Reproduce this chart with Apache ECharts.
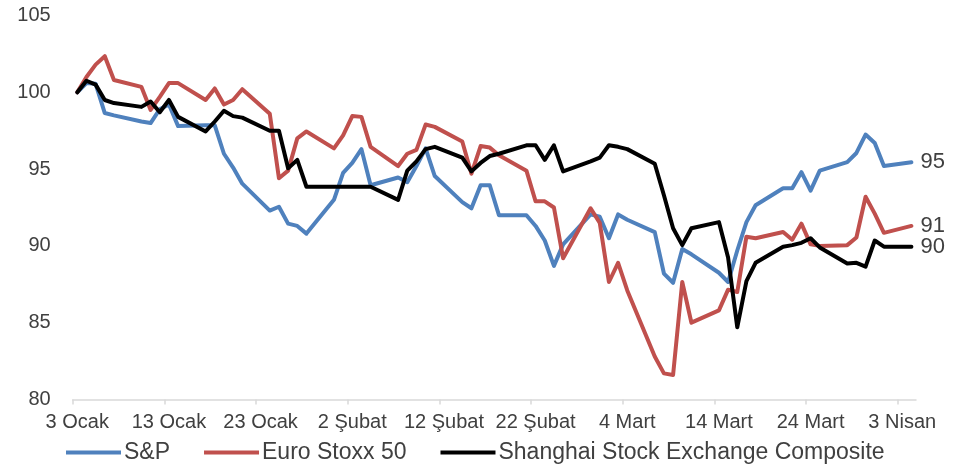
<!DOCTYPE html>
<html>
<head>
<meta charset="utf-8">
<script src="https://cdn.jsdelivr.net/npm/echarts@6/dist/echarts.min.js"></script>
<style>
  html, body { margin: 0; padding: 0; background: #fff; }
  #chart { width: 969px; height: 468px; }
</style>
</head>
<body>
<div id="chart"></div>
<script>
// trading days shown on the chart (2022)
var dates = [
  '2022-01-03','2022-01-04','2022-01-05','2022-01-06','2022-01-07',
  '2022-01-10','2022-01-11','2022-01-12','2022-01-13','2022-01-14',
  '2022-01-17','2022-01-18','2022-01-19','2022-01-20','2022-01-21',
  '2022-01-24','2022-01-25','2022-01-26','2022-01-27','2022-01-28',
  '2022-01-31','2022-02-01','2022-02-02','2022-02-03','2022-02-04',
  '2022-02-07','2022-02-08','2022-02-09','2022-02-10','2022-02-11',
  '2022-02-14','2022-02-15','2022-02-16','2022-02-17','2022-02-18',
  '2022-02-21','2022-02-22','2022-02-23','2022-02-24','2022-02-25',
  '2022-02-28','2022-03-01','2022-03-02','2022-03-03','2022-03-04',
  '2022-03-07','2022-03-08','2022-03-09','2022-03-10','2022-03-11',
  '2022-03-14','2022-03-15','2022-03-16','2022-03-17','2022-03-18',
  '2022-03-21','2022-03-22','2022-03-23','2022-03-24','2022-03-25',
  '2022-03-28','2022-03-29','2022-03-30','2022-03-31','2022-04-01',
  '2022-04-04'
];

var sp = [
  100, 100.6, 100.55, 98.65, 98.5,
  98.1, 98.0, 98.9, 99.2, 97.8,
  97.85, 97.85, 96.0, 95.1, 94.05,
  92.3, 92.55, 91.45, 91.3, 90.8,
  93.0, 94.75, 95.4, 96.3, 93.95,
  94.45, 94.15, 95.2, 96.35, 94.55,
  92.85, 92.45, 93.95, 93.95, 92.0,
  92.0, 91.3, 90.35, 88.7, 90.1,
  92.05, 91.9, 90.5, 92.05, 91.7,
  90.9, 88.2, 87.6, 89.8, 89.45,
  88.25, 87.65, 89.7, 91.55, 92.65,
  93.75, 93.75, 94.8, 93.6, 94.9,
  95.45, 96.05, 97.25, 96.7, 95.2,
  95.45
];

var stoxx = [
  100, 101.0, 101.8, 102.35, 100.8,
  100.35, 98.85, 99.7, 100.6, 100.6,
  99.5, 100.25, 99.2, 99.5, 100.2,
  98.6, 94.4, 94.9, 97.0, 97.45,
  96.35, 97.2, 98.45, 98.4, 96.45,
  95.2, 96.0, 96.25, 97.9, 97.75,
  96.8, 94.7, 96.5, 96.4, 95.9,
  94.9, 92.9, 92.9, 92.5, 89.2,
  92.45, 91.5, 87.65, 88.9, 87.1,
  82.8, 81.7, 81.6, 87.65, 85.0,
  85.8, 87.15, 87.0, 90.6, 90.5,
  90.9, 90.4, 91.45, 90.1, 90.0,
  90.05, 90.55, 93.2, 92.1, 90.85,
  91.3
];

var shanghai = [
  100, 100.75, 100.5, 99.5, 99.3,
  99.05, 99.4, 98.7, 99.5, 98.4,
  97.45, 98.1, 98.8, 98.45, 98.35,
  97.5, 97.5, 95.05, 95.6, 93.85,
  93.85, 93.85, 93.85, 93.85, 93.85,
  93.0, 94.9, 95.5, 96.3, 96.45,
  95.75, 94.85, 95.4, 95.85, 96.0,
  96.55, 96.55, 95.6, 96.55, 94.85,
  95.5, 95.75, 96.55, 96.45, 96.3,
  95.35, 93.3, 91.15, 90.05, 91.15,
  91.55, 89.25, 84.7, 87.7, 88.9,
  89.95, 90.05, 90.2, 90.5, 89.9,
  88.85, 88.9, 88.65, 90.35, 89.95,
  89.95
];

var seriesNames = ['S&P', 'Euro Stoxx 50', 'Shanghai Stock Exchange Composite'];
var xTickLabels = ['3 Ocak', '13 Ocak', '23 Ocak', '2 Şubat', '12 Şubat', '22 Şubat', '4 Mart', '14 Mart', '24 Mart', '3 Nisan'];

var colors = ['#4F81BD', '#C0504D', '#000000'];
var textColor = '#404040';
var fontFamily = '"Liberation Sans", Arial, sans-serif';

// day offset from the first date, so the x axis behaves like a date axis
var t0 = Date.parse(dates[0]);
function dayOf(d) { return Math.round((Date.parse(d) - t0) / 86400000); }

function pairs(vals) {
  return dates.map(function (d, i) { return [dayOf(d), vals[i]]; });
}

var labelDays = xTickLabels.map(function (l, i) { return i * 10; });
var tickDays = labelDays.map(function (d) { return d - 0.5; });

var chart = echarts.init(document.getElementById('chart'));

function makeSeries(name, vals, color) {
  return {
    name: name,
    type: 'line',
    data: pairs(vals),
    showSymbol: false,
    symbol: 'none',
    color: color,
    lineStyle: { width: 4, color: color, cap: 'round', join: 'round' },
    emphasis: { disabled: true },
    endLabel: {
      show: true,
      distance: 9,
      fontSize: 22,
      fontFamily: fontFamily,
      color: textColor,
      formatter: function (p) { return Math.round(p.value[1]); }
    }
  };
}

var option = {
  animation: false,
  backgroundColor: '#ffffff',
  textStyle: { fontFamily: fontFamily },
  grid: {
    left: 72.7, right: 53, top: 15.5, bottom: 68.5,
    containLabel: false,
    outerBoundsMode: 'none'
  },
  legend: {
    data: seriesNames,
    left: 61,
    top: 436,
    icon: 'rect',
    itemWidth: 55,
    itemHeight: 4,
    itemGap: 34,
    textStyle: { fontSize: 23, color: textColor, fontFamily: fontFamily, padding: [0, 0, 0, -2] }
  },
  xAxis: {
    type: 'value',
    min: -0.5,
    max: 91.5,
    splitLine: { show: false },
    axisLine: { show: true, lineStyle: { color: '#d9d9d9', width: 1.5 } },
    axisTick: { show: true, length: 5, customValues: tickDays, lineStyle: { color: '#d9d9d9', width: 1.5 } },
    axisLabel: {
      customValues: labelDays,
      margin: 13,
      fontSize: 20,
      color: textColor,
      fontFamily: fontFamily,
      formatter: function (v) { return xTickLabels[Math.round(v / 10)]; }
    }
  },
  yAxis: {
    type: 'value',
    min: 80,
    max: 105,
    interval: 5,
    splitLine: { show: false },
    axisLine: { show: false },
    axisTick: { show: false },
    axisLabel: { margin: 22, fontSize: 20, color: textColor, fontFamily: fontFamily }
  },
  series: [
    makeSeries(seriesNames[0], sp, colors[0]),
    makeSeries(seriesNames[1], stoxx, colors[1]),
    makeSeries(seriesNames[2], shanghai, colors[2])
  ]
};

chart.setOption(option);
</script>
</body>
</html>
